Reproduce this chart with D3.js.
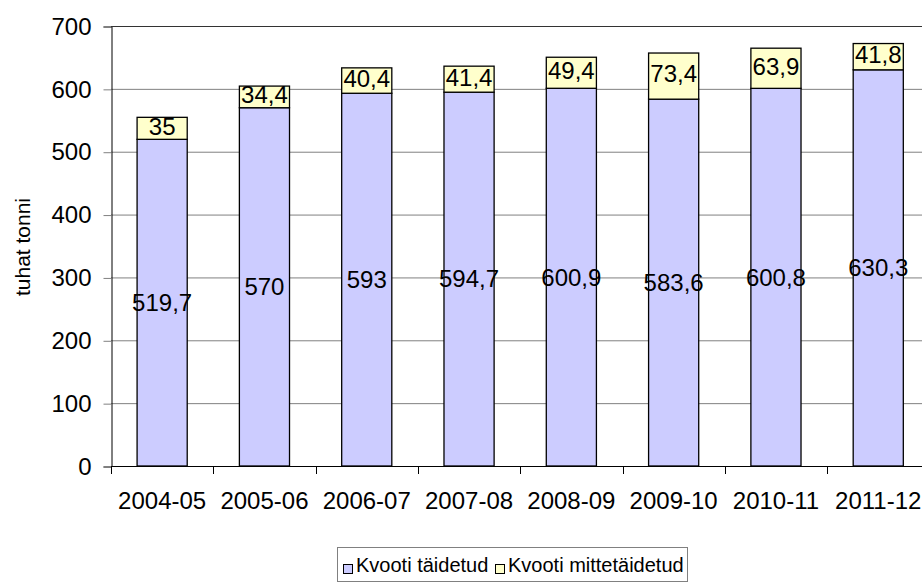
<!DOCTYPE html>
<html>
<head>
<meta charset="utf-8">
<script src="https://cdn.jsdelivr.net/npm/d3@7"></script>
<style>
  body { margin: 0; background: #fff; }
  svg { display: block; font-family: "Liberation Sans", Arial, sans-serif; }
</style>
</head>
<body>
<div id="chart"></div>
<script>
var seasons = ["2004-05", "2005-06", "2006-07", "2007-08", "2008-09", "2009-10", "2010-11", "2011-12"];
var taidetud = [519.7, 570, 593, 594.7, 600.9, 583.6, 600.8, 630.3];
var mittetaidetud = [35, 34.4, 40.4, 41.4, 49.4, 73.4, 63.9, 41.8];
var yTicks = [0, 100, 200, 300, 400, 500, 600, 700];
var seriesNames = ["Kvooti täidetud", "Kvooti mittetäidetud"];
var colours = ["#ccccff", "#ffffcc"];

var width = 922, height = 588;
var plotLeft = 111, plotTop = 26, plotBottom = 466, step = 102.3;

var svg = d3.select("#chart").append("svg")
  .attr("width", width)
  .attr("height", height);

var x = d3.scaleBand()
  .domain(seasons)
  .range([plotLeft, plotLeft + step * seasons.length])
  .padding(0);

var y = d3.scaleLinear()
  .domain([0, 700])
  .range([plotBottom, plotTop]);

var fmt = function(v) { return String(v).replace(".", ","); };

// gridlines
svg.append("g").selectAll("line")
  .data(yTicks.filter(function(d) { return d > 0; }))
  .enter().append("line")
  .attr("x1", plotLeft).attr("x2", width)
  .attr("y1", function(d) { return y(d) + 0.5; })
  .attr("y2", function(d) { return y(d) + 0.5; })
  .attr("stroke", function(d) { return d == 700 ? "#333" : "#808080"; })
  .attr("stroke-width", 1);

// y axis
var yAxis = d3.axisLeft(y).tickValues(yTicks).tickSize(8).tickPadding(12);
var yg = svg.append("g")
  .attr("transform", "translate(" + (plotLeft + 0.5) + ",0.5)")
  .call(yAxis);
yg.select(".domain").attr("stroke", "#000");
yg.selectAll(".tick line").attr("stroke", "#808080");
yg.selectAll("text").attr("font-size", "24px").attr("fill", "#000")
  .attr("font-family", "Liberation Sans, Arial, sans-serif");

// bars
var barW = x.bandwidth() * 0.49;
var bars = svg.append("g").selectAll("g")
  .data(seasons)
  .enter().append("g");

bars.append("rect")
  .attr("x", function(d) { return x(d) + (x.bandwidth() - barW) / 2; })
  .attr("y", function(d, i) { return y(taidetud[i]); })
  .attr("width", barW)
  .attr("height", function(d, i) { return y(0) - y(taidetud[i]); })
  .attr("fill", colours[0])
  .attr("stroke", "#000")
  .attr("stroke-width", 1.3);

bars.append("rect")
  .attr("x", function(d) { return x(d) + (x.bandwidth() - barW) / 2; })
  .attr("y", function(d, i) { return y(taidetud[i] + mittetaidetud[i]); })
  .attr("width", barW)
  .attr("height", function(d, i) { return y(taidetud[i]) - y(taidetud[i] + mittetaidetud[i]); })
  .attr("fill", colours[1])
  .attr("stroke", "#000")
  .attr("stroke-width", 1.3);

// value labels
bars.append("text")
  .attr("x", function(d) { return x(d) + x.bandwidth() / 2; })
  .attr("y", function(d, i) { return y(taidetud[i] / 2); })
  .attr("dy", "0.35em")
  .attr("text-anchor", "middle")
  .attr("font-size", "24px")
  .text(function(d, i) { return fmt(taidetud[i]); });

bars.append("text")
  .attr("x", function(d) { return x(d) + x.bandwidth() / 2; })
  .attr("y", function(d, i) { return y(taidetud[i] + mittetaidetud[i] / 2) - 2; })
  .attr("dy", "0.35em")
  .attr("text-anchor", "middle")
  .attr("font-size", "24px")
  .text(function(d, i) { return fmt(mittetaidetud[i]); });

// x axis line and boundary ticks
svg.append("line")
  .attr("x1", plotLeft).attr("x2", width)
  .attr("y1", plotBottom + 0.5).attr("y2", plotBottom + 0.5)
  .attr("stroke", "#000");

svg.append("g").selectAll("line")
  .data(d3.range(seasons.length + 1))
  .enter().append("line")
  .attr("x1", function(i) { return Math.round(x.range()[0] + i * x.step()) + 0.5; })
  .attr("x2", function(i) { return Math.round(x.range()[0] + i * x.step()) + 0.5; })
  .attr("y1", plotBottom).attr("y2", plotBottom + 8)
  .attr("stroke", "#000");

svg.append("g").selectAll("text")
  .data(seasons)
  .enter().append("text")
  .attr("x", function(d) { return x(d) + x.bandwidth() / 2; })
  .attr("y", 509)
  .attr("text-anchor", "middle")
  .attr("font-size", "24px")
  .text(function(d) { return d; });

// y title
svg.append("text")
  .attr("transform", "translate(30,247) rotate(-90)")
  .attr("text-anchor", "middle")
  .attr("font-size", "21px")
  .text("tuhat tonni");

// legend
var legend = svg.append("g");
legend.append("rect")
  .attr("x", 337.5).attr("y", 547.5)
  .attr("width", 350).attr("height", 34)
  .attr("fill", "#fff")
  .attr("stroke", "#808080");

var legendX = [343, 495];
seriesNames.forEach(function(name, i) {
  legend.append("rect")
    .attr("x", legendX[i] + 0.5).attr("y", 564.5)
    .attr("width", 9).attr("height", 9)
    .attr("fill", colours[i])
    .attr("stroke", "#000");
  legend.append("text")
    .attr("x", legendX[i] + 13)
    .attr("y", 572)
    .attr("font-size", "20px")
    .text(name);
});
</script>
</body>
</html>
